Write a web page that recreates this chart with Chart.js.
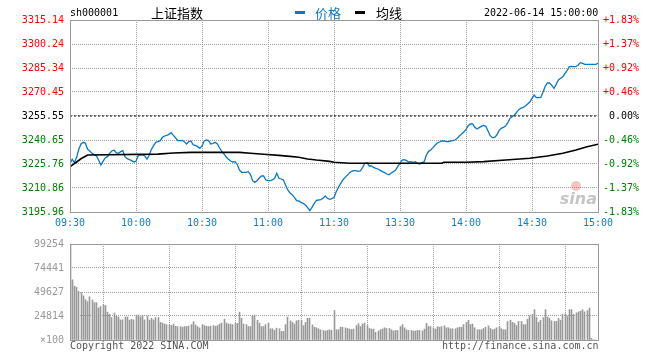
<!DOCTYPE html>
<html>
<head>
<meta charset="utf-8">
<script src="https://cdn.jsdelivr.net/npm/chart.js@4"></script>
<style>
  html, body { margin: 0; padding: 0; background: #fff; }
  #wrap { position: relative; width: 660px; height: 360px; overflow: hidden; }
  #wrap canvas { position: absolute; left: 0; }
  .t { position: absolute; white-space: pre; font-family: "DejaVu Sans Mono", monospace; font-size: 10px; line-height: 12px; }
  .cjk { font-family: "Noto Sans CJK SC", sans-serif; font-size: 13px; line-height: 15px; }
  .dash { position: absolute; height: 3px; width: 10px; }
</style>
</head>
<body>
<div id="wrap">
  <canvas id="priceChart" width="660" height="232" style="top:0"></canvas>
  <canvas id="volumeChart" width="660" height="128" style="top:232px"></canvas>

  <div class="t" style="left:70px;top:7px;color:#000">sh000001</div>
  <div class="t cjk" style="left:151px;top:5px;color:#000">上证指数</div>
  <div class="dash" style="left:295px;top:11px;background:#0a78c8"></div>
  <div class="t cjk" style="left:315px;top:5px;color:#0a78c8">价格</div>
  <div class="dash" style="left:355px;top:11px;background:#000"></div>
  <div class="t cjk" style="left:376px;top:5px;color:#000">均线</div>
  <div class="t" style="left:484px;top:7px;color:#000">2022-06-14 15:00:00</div>

  <div class="t" style="left:70px;top:340px;color:#555">Copyright 2022 SINA.COM</div>
  <div class="t" style="left:442px;top:340px;color:#555">http://finance.sina.com.cn</div>
</div>

<script>
// 上证指数 2022-06-14, one point per minute (09:30 .. 15:00, 241 points)
const prevClose = 3255.55;

const priceValues = [
  3226.17, 3228.66, 3226.59, 3229.90, 3234.86, 3238.17, 3239.21, 3238.59, 3234.86, 3233.83,
  3232.38, 3231.55, 3230.72, 3228.24, 3225.14, 3227.41, 3229.48, 3230.31, 3232.38, 3233.83,
  3234.45, 3232.79, 3232.38, 3233.41, 3234.04, 3230.31, 3229.07, 3228.45, 3227.83, 3227.00,
  3227.41, 3230.93, 3231.35, 3231.35, 3230.72, 3228.86, 3231.14, 3234.86, 3237.14, 3239.21,
  3239.62, 3240.24, 3242.31, 3243.14, 3243.55, 3244.17, 3245.21, 3243.55, 3241.90, 3240.24,
  3240.24, 3240.45, 3239.62, 3238.17, 3239.62, 3240.04, 3237.55, 3237.35, 3236.52, 3235.48,
  3236.93, 3240.04, 3240.66, 3240.24, 3238.17, 3238.59, 3239.21, 3238.17, 3235.69, 3233.62,
  3231.97, 3230.10, 3228.66, 3227.62, 3227.00, 3227.21, 3225.55, 3222.03, 3220.59, 3220.59,
  3220.59, 3221.00, 3219.35, 3215.41, 3214.38, 3215.41, 3217.07, 3218.31, 3218.31, 3215.83,
  3215.41, 3215.41, 3215.83, 3216.86, 3219.97, 3216.86, 3216.45, 3215.83, 3212.52, 3209.62,
  3207.76, 3206.72, 3205.07, 3203.00, 3202.79, 3201.97, 3201.34, 3200.31, 3198.66, 3196.79,
  3198.86, 3201.34, 3203.21, 3203.41, 3203.62, 3204.45, 3205.90, 3204.45, 3203.83, 3204.24,
  3204.90, 3208.58, 3211.27, 3213.55, 3215.82, 3217.27, 3218.72, 3220.17, 3221.20, 3221.61,
  3221.61, 3221.20, 3221.41, 3223.68, 3226.17, 3226.58, 3224.51, 3224.51, 3223.68, 3223.06,
  3222.65, 3221.82, 3220.99, 3220.37, 3219.55, 3219.13, 3220.17, 3220.99, 3222.03, 3224.30,
  3226.17, 3228.23, 3228.44, 3227.82, 3226.99, 3227.20, 3226.79, 3227.20, 3226.17, 3225.75,
  3226.58, 3227.20, 3231.34, 3233.61, 3234.44, 3235.89, 3237.55, 3238.79, 3239.41, 3240.03,
  3240.03, 3239.61, 3239.61, 3240.03, 3240.24, 3240.65, 3241.68, 3243.13, 3244.37, 3245.61,
  3247.27, 3249.55, 3250.58, 3250.58, 3248.51, 3247.48, 3248.31, 3249.13, 3249.75, 3249.13,
  3246.24, 3243.34, 3242.10, 3242.31, 3243.75, 3246.44, 3247.89, 3248.51, 3249.34, 3251.41,
  3254.10, 3255.13, 3256.17, 3257.82, 3259.48, 3260.51, 3260.93, 3261.75, 3263.00, 3264.24,
  3266.51, 3268.58, 3266.93, 3266.93, 3267.13, 3270.24, 3273.96, 3276.03, 3276.03, 3274.58,
  3272.72, 3275.20, 3277.89, 3278.93, 3279.96, 3282.03, 3283.89, 3286.17, 3286.38, 3286.17,
  3286.17, 3287.20, 3288.65, 3288.24, 3287.62, 3287.62, 3287.62, 3287.62, 3287.62, 3287.62,
  3288.24
];

// 均线 read at the minutes where it changes slope
const avgMinutes = [0, 3, 5, 8, 40, 47, 55, 77, 82, 88, 95, 100, 104, 108, 112, 118, 120, 127, 169, 170,
  180, 188, 198, 209, 217, 224, 230, 235, 240];
const avgValues = [3224.1, 3227.0, 3229.0, 3231.3, 3231.9, 3232.6, 3233.0, 3233.0, 3232.4, 3231.8,
  3231.1, 3230.5, 3229.9, 3228.9, 3228.2, 3227.4, 3226.8, 3226.2, 3226.2, 3226.8,
  3226.8, 3227.2, 3228.2, 3229.3, 3230.7, 3232.4, 3234.5, 3236.5, 3238.0];

// volume per minute, unit x100
const volumeValues = [
  99000,
  62200, 55600, 54600, 50300, 49000, 45700, 41700, 39700, 44700, 41400,
  38700, 38700, 33100, 34700, 36400, 35700, 28800, 26500, 23200, 27800,
  24500, 23800, 20800, 20800, 23800, 23800, 20500, 21500, 20800, 25800,
  25800, 23800, 25500, 20800, 24800, 20500, 22500, 20800, 23200, 23200,
  18200, 17500, 16500, 15900, 15200, 14900, 16500, 14200, 13900, 13900,
  13200, 13900, 13900, 14600, 15900, 18900, 15600, 13900, 12600, 15900,
  14900, 14200, 13900, 14200, 14900, 14200, 14900, 16500, 17500, 21500,
  17500, 16500, 16500, 15900, 17200, 17200, 28800, 22500, 16500, 15900,
  13900, 13900, 24800, 25800, 20500, 17500, 13900, 13900, 15900, 17500,
  11600, 11600, 9900, 12200, 11600, 8900, 8900, 15900, 23800, 19900,
  18200, 16500, 19900, 20500, 20500, 14900, 18200, 22500, 22500, 15600,
  13200, 12600, 11600, 10600, 9900, 9300, 9900, 10600, 9900, 30500,
  10600, 10600, 13200, 13200, 12600, 11900, 11300, 10900, 11300, 14900,
  16900, 13900, 16500, 17500, 14900, 11900, 11300, 11300, 7900, 9300,
  10600, 11300, 12600, 11900, 11900, 10600, 9300, 9900, 9900, 13900,
  15900, 12600, 10600, 9900, 9900, 9300, 9300, 9900, 9900, 9300,
  11300, 17200, 14000, 13900, 12600, 11300, 13900, 13200, 13900, 14600,
  12600, 12600, 11600, 11600, 11600, 12600, 13200, 13200, 15900, 18200,
  20500, 15900, 16500, 12600, 10600, 10600, 10600, 11900, 13200, 14600,
  11900, 10600, 11300, 12600, 13900, 11600, 10600, 10600, 19200, 20500,
  18200, 17200, 14900, 19200, 19200, 15900, 15900, 21500, 24800, 26500,
  31400, 23200, 18200, 20500, 23200, 31400, 23800, 22500, 19900, 19200,
  19200, 22500, 20500, 26500, 27100, 24800, 31400, 31400, 26500, 28100,
  29100, 29800, 31400, 29100, 30400, 33100, 1700, 0, 0, 0
];

const timeTickMinutes = [0, 30, 60, 90, 120, 150, 180, 210, 240];
const timeLabels = ['09:30', '10:00', '10:30', '11:00', '11:30', '13:30', '14:00', '14:30', '15:00'];
const priceTicks = [3195.96, 3210.86, 3225.76, 3240.65, 3255.55, 3270.45, 3285.34, 3300.24, 3315.14];
const percentLabels = ['-1.83%', '-1.37%', '-0.92%', '-0.46%', ' 0.00%', '+0.46%', '+0.92%', '+1.37%', '+1.83%'];
const volumeTicks = [0, 24814, 49627, 74441, 99254];
const volumeLabels = ['×100', '24814', '49627', '74441', '99254'];

Chart.defaults.font.family = '"DejaVu Sans Mono", monospace';
Chart.defaults.font.size = 10;

const MONO = { family: '"DejaVu Sans Mono", monospace', size: 10 };
const GRID = '#a0a0a0';

function upDownColor(ctx) {
    const v = ctx.tick.value;
    if (v > prevClose + 0.01) return '#ff0000';
    if (v < prevClose - 0.01) return '#008000';
    return '#000000';
}

const framePlugin = {
    id: 'frame',
    afterDraw(chart) {
        const { ctx, chartArea: a } = chart;
        ctx.save();
        ctx.strokeStyle = '#999999';
        ctx.lineWidth = 1;
        ctx.strokeRect(Math.round(a.left) + 0.5, Math.round(a.top) + 0.5,
            Math.round(a.right - a.left), Math.round(a.bottom - a.top));
        ctx.restore();
    }
};

// keep the 1px volume bars on whole pixels so they stay crisp
const snapBars = {
    id: 'snapBars',
    beforeDatasetsDraw(chart) {
        chart.getDatasetMeta(0).data.forEach(el => {
            el.x = Math.round(el.x - 0.5) + 0.5;
        });
    }
};

const sinaMark = {
    id: 'sinaMark',
    beforeDatasetsDraw(chart) {
        const { ctx, chartArea: a } = chart;
        ctx.save();
        ctx.fillStyle = 'rgba(225, 90, 90, 0.35)';
        ctx.beginPath();
        ctx.arc(a.right - 22, a.bottom - 26, 5, 0, Math.PI * 2);
        ctx.fill();
        ctx.fillStyle = 'rgba(150, 150, 150, 0.55)';
        ctx.font = 'italic bold 16px "DejaVu Sans", sans-serif';
        ctx.textAlign = 'right';
        ctx.fillText('sina', a.right - 1, a.bottom - 8);
        ctx.restore();
    }
};

const timeAxis = (showLabels) => ({
    type: 'linear',
    min: 0,
    max: 240,
    offset: false,
    afterBuildTicks: s => { s.ticks = timeTickMinutes.map(v => ({ value: v })); },
    afterFit: s => { s.height = showLabels ? 20 : 0; },
    ticks: {
        display: showLabels,
        autoSkip: false,
        maxRotation: 0,
        padding: 5,
        color: '#0f7fd0',
        font: MONO,
        callback: (v, i) => timeLabels[i]
    },
    grid: { color: GRID, drawTicks: false },
    border: { display: false, dash: [1, 1] }
});

new Chart(document.getElementById('priceChart'), {
    type: 'line',
    data: {
        datasets: [
            {
                label: 'prevClose',
                data: [{ x: 0, y: prevClose }, { x: 240, y: prevClose }],
                borderColor: '#000',
                borderWidth: 1,
                borderDash: [2, 2],
                pointRadius: 0
            },
            {
                label: '均线',
                data: avgMinutes.map((m, i) => ({ x: m, y: avgValues[i] })),
                borderColor: '#000',
                borderWidth: 1.6,
                pointRadius: 0,
                tension: 0
            },
            {
                label: '价格',
                data: priceValues.map((v, i) => ({ x: i, y: v })),
                borderColor: '#0a78c8',
                borderWidth: 1.3,
                pointRadius: 0,
                tension: 0
            }
        ]
    },
    options: {
        responsive: false,
        animation: false,
        layout: { padding: { top: 20, left: 0, right: 0, bottom: 0 } },
        plugins: { legend: { display: false }, tooltip: { enabled: false } },
        scales: {
            x: timeAxis(true),
            y: {
                position: 'left',
                min: priceTicks[0],
                max: priceTicks[priceTicks.length - 1],
                afterBuildTicks: s => { s.ticks = priceTicks.map(v => ({ value: v })); },
                afterFit: s => { s.width = 70; },
                ticks: {
                    padding: 6,
                    font: MONO,
                    color: upDownColor,
                    callback: v => v.toFixed(2)
                },
                grid: { color: GRID, drawTicks: false },
                border: { display: false, dash: [1, 1] }
            },
            pct: {
                position: 'right',
                min: priceTicks[0],
                max: priceTicks[priceTicks.length - 1],
                afterBuildTicks: s => { s.ticks = priceTicks.map(v => ({ value: v })); },
                afterFit: s => { s.width = 62; },
                ticks: {
                    padding: 5,
                    font: MONO,
                    color: upDownColor,
                    callback: (v, i) => percentLabels[i]
                },
                grid: { display: false, drawTicks: false },
                border: { display: false }
            }
        }
    },
    plugins: [sinaMark, framePlugin]
});

new Chart(document.getElementById('volumeChart'), {
    type: 'bar',
    data: {
        datasets: [{
            label: '成交量',
            data: volumeValues.map((v, i) => ({ x: i, y: v })),
            backgroundColor: '#999999',
            borderWidth: 0,
            barThickness: 1
        }]
    },
    options: {
        responsive: false,
        animation: false,
        layout: { padding: { top: 8, left: 0, right: 62, bottom: 20 } },
        plugins: { legend: { display: false }, tooltip: { enabled: false } },
        scales: {
            x: timeAxis(false),
            y: {
                position: 'left',
                min: 0,
                max: volumeTicks[volumeTicks.length - 1],
                afterBuildTicks: s => { s.ticks = volumeTicks.map(v => ({ value: v })); },
                afterFit: s => { s.width = 70; },
                ticks: {
                    padding: 6,
                    font: MONO,
                    color: '#999999',
                    callback: (v, i) => volumeLabels[i]
                },
                grid: { color: GRID, drawTicks: false },
                border: { display: false, dash: [1, 1] }
            }
        }
    },
    plugins: [snapBars, framePlugin]
});
</script>
</body>
</html>
